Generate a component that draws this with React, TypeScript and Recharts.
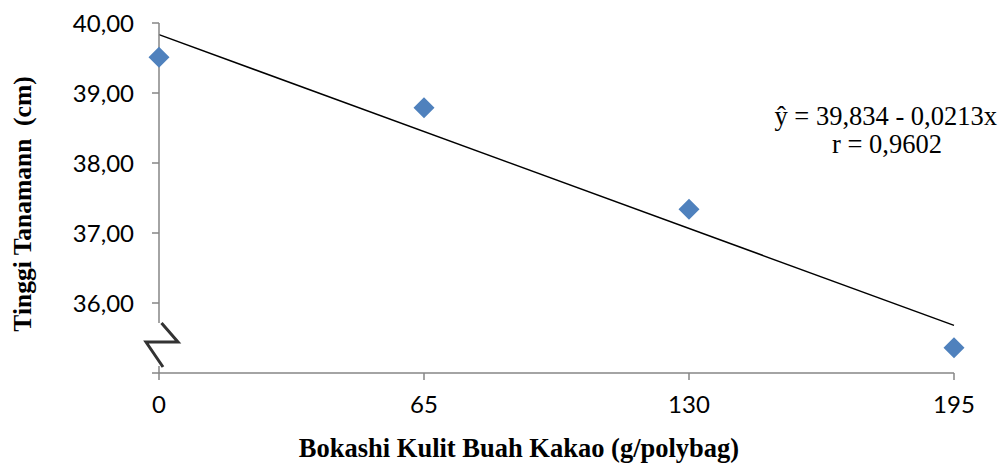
import React from 'react';
import { ScatterChart, Scatter, XAxis, YAxis, ReferenceLine, ReferenceDot, Customized } from 'recharts';

const doses = [0, 65, 130, 195];
const heights = [39.51, 38.79, 37.34, 35.36];
const xTicks = [0, 65, 130, 195];
const yTicks = [35, 36, 37, 38, 39, 40];
const trendStart = { x: 0, y: 39.834 };
const trendEnd = { x: 195, y: 35.68 };
const equationText = 'ŷ = 39,834 - 0,0213x';
const rText = 'r = 0,9602';
const xTitle = 'Bokashi Kulit Buah Kakao (g/polybag)';
const yTitle = 'Tinggi Tanamann  (cm)';

const points = doses.map((d, i) => ({ x: d, y: heights[i] }));

const serif = "'Liberation Serif', 'Times New Roman', serif";

const Diamond = (props: any) => {
  const { cx, cy } = props;
  const r = 10.5;
  return <polygon points={`${cx},${cy - r} ${cx + r},${cy} ${cx},${cy + r} ${cx - r},${cy}`} fill="#4F81BD" />;
};

const BreakMark = (props: any) => {
  const { cx, cy } = props;
  return (
    <g>
      <rect x={cx - 4} y={cy - 15} width={8} height={43} fill="#fff" />
      <path
        d={`M${cx + 2.5},${cy - 15} L${cx + 19},${cy + 4} L${cx - 13},${cy + 4} L${cx + 4},${cy + 29}`}
        fill="none"
        stroke="#333"
        strokeWidth={3}
        strokeLinejoin="miter"
      />
    </g>
  );
};

const Annotations = () => (
  <g>
    <text x={997} y={125} textAnchor="end" fontFamily={serif} fontSize={26.5} fill="#000">{equationText}</text>
    <text x={887} y={153} textAnchor="middle" fontFamily={serif} fontSize={26.5} fill="#000">{rText}</text>
    <text x={519} y={457} textAnchor="middle" fontFamily={serif} fontWeight="bold" fontSize={26.5} fill="#000">{xTitle}</text>
    <text x={31} y={204} transform="rotate(-90 31 204)" textAnchor="middle" fontFamily={serif} fontWeight="bold" fontSize={25.5} fill="#000" style={{ whiteSpace: 'pre' }}>{yTitle}</text>
  </g>
);

const fmt = (v: number) => (v === 35 ? '' : v.toFixed(2).replace('.', ','));

export default function App() {
  return (
    <div style={{ position: 'absolute', left: 0, top: 0, width: 1005, height: 470, background: '#fff' }}>
      <ScatterChart width={1005} height={470} margin={{ top: 23, right: 51, bottom: 0, left: 0 }}>
        <XAxis
          type="number"
          dataKey="x"
          domain={[0, 195]}
          ticks={xTicks}
          height={97}
          axisLine={{ stroke: '#868686', strokeWidth: 1.5 }}
          tickLine={{ stroke: '#868686', strokeWidth: 1.5 }}
          tickSize={7}
          tickMargin={16}
          tick={{ fill: '#000', fontSize: 24, fontFamily: 'Lato, sans-serif' }}
          interval={0}
        />
        <YAxis
          type="number"
          dataKey="y"
          domain={[35, 40]}
          ticks={yTicks}
          width={159}
          allowDataOverflow
          axisLine={{ stroke: '#868686', strokeWidth: 1.5 }}
          tickLine={{ stroke: '#868686', strokeWidth: 1.5 }}
          tickSize={7}
          tickMargin={18}
          tickFormatter={fmt}
          tick={{ fill: '#000', fontSize: 24, fontFamily: 'Lato, sans-serif' }}
          interval={0}
        />
        <ReferenceLine
          segment={[trendStart, trendEnd]}
          stroke="#000"
          strokeWidth={1.5}
          ifOverflow="visible"
        />
        <ReferenceDot x={0} y={35.5} r={1} ifOverflow="visible" shape={BreakMark} />
        <Scatter data={points} shape={Diamond} isAnimationActive={false} />
        <Customized component={Annotations} />
      </ScatterChart>
    </div>
  );
}
